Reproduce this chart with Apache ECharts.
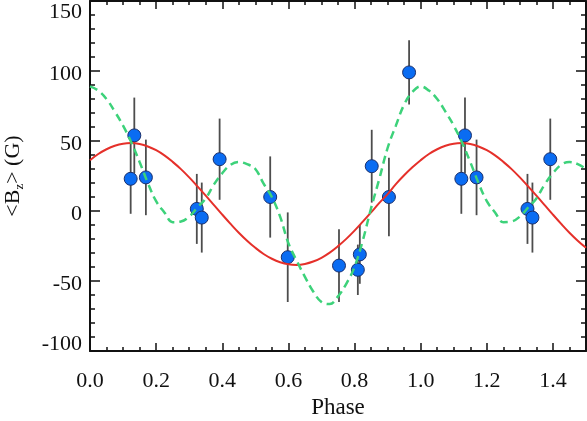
<!DOCTYPE html>
<html>
<head>
<meta charset="utf-8">
<script src="https://cdn.jsdelivr.net/npm/echarts@6/dist/echarts.min.js"></script>
<style>
html, body { margin: 0; padding: 0; background: #fff; }
#main { width: 587px; height: 421px; }
</style>
</head>
<body>
<div id="main"></div>
<script>
// observed points (phase, <Bz>, error)
var phase = [0.123, 0.134, 0.169, 0.323, 0.338, 0.392, 0.545, 0.598, 0.753, 0.810, 0.816, 0.852, 0.904, 0.965];
var bz    = [23, 54, 24, 1.5, -4.7, 37, 10, -33, -39, -42, -31, 32, 10, 99];
var err   = [25, 27, 27, 25, 25, 29, 29, 32, 26, 18, 21, 26, 28, 23];

// model curves, every 0.025 in phase
var curvePhase = [0, 0.025, 0.05, 0.075, 0.1, 0.125, 0.15, 0.175, 0.2, 0.225,
                  0.25, 0.275, 0.3, 0.325, 0.35, 0.375, 0.4, 0.425, 0.45, 0.475,
                  0.5, 0.525, 0.55, 0.575, 0.6, 0.625, 0.65, 0.675, 0.7, 0.725,
                  0.75, 0.775, 0.8, 0.825, 0.85, 0.875, 0.9, 0.925, 0.95, 0.975,
                  1.0, 1.025, 1.05, 1.075, 1.1, 1.125, 1.15, 1.175, 1.2, 1.225,
                  1.25, 1.275, 1.3, 1.325, 1.35, 1.375, 1.4, 1.425, 1.45, 1.475, 1.5];
var redCurve = [36.3, 40.7, 44.1, 46.6, 48.1, 48.5, 47.8, 46.1, 43.4, 39.7,
                35.1, 29.9, 24.0, 17.6, 11.0, 4.2, -2.6, -9.2, -15.5, -21.2,
                -26.3, -30.7, -34.1, -36.6, -38.1, -38.5, -37.8, -36.1, -33.4, -29.7,
                -25.1, -19.9, -14.0, -7.6, -1.0, 5.8, 12.0, 19.2, 25.5, 31.2,
                36.3, 40.7, 44.1, 46.6, 48.1, 48.5, 47.8, 46.1, 43.4, 39.7,
                35.1, 29.9, 24.0, 17.6, 11.0, 4.2, -2.6, -9.2, -15.5, -21.2, -26.3];
var greenCurve = [89, 86, 80, 71, 61, 49, 35, 20, 7, -1,
                  -8, -7.5, -4, 2.5, 9, 19, 27, 33, 35, 33.5,
                  30, 19.5, 10, -4, -23, -35.5, -47, -57.5, -65, -66.5,
                  -61, -52, -40, -21, 2, 23, 45, 61, 76, 85,
                  89, 86, 80, 71, 61, 49, 35, 20, 7, -1,
                  -8, -7.5, -4, 2.5, 9, 19, 27, 33, 35, 33.5, 30];

var xTicks = [0, 0.2, 0.4, 0.6, 0.8, 1.0, 1.2, 1.4];
var yTicks = [-100, -50, 0, 50, 100, 150];

// points with phase < 0.5 are repeated one cycle later
var pts = [];
for (var i = 0; i < phase.length; i++) {
    pts.push([phase[i], bz[i], err[i]]);
}
for (var i = 0; i < phase.length; i++) {
    if (phase[i] < 0.5) pts.push([phase[i] + 1, bz[i], err[i]]);
}

var myChart = echarts.init(document.getElementById('main'));
var font = 'Liberation Serif';
var black = '#111';

function xAx(pos, step, len, showLine, showLabel) {
    return {
        type: 'value', position: pos, min: 0, max: 1.5, interval: step,
        axisLine: { show: showLine, onZero: false, lineStyle: { color: black, width: 2 } },
        axisTick: { show: true, inside: true, length: len, lineStyle: { color: black, width: 1.5 } },
        axisLabel: {
            show: showLabel, margin: 19, fontFamily: font, fontSize: 22, color: black,
            showMaxLabel: false,
            formatter: function (v) { return xTicks.indexOf(+v.toFixed(2)) >= 0 ? v.toFixed(1) : ''; }
        },
        splitLine: { show: false }
    };
}

var xAxes = [
    xAx('bottom', 0.2, 8, true, true),
    xAx('bottom', 0.05, 4, false, false),
    xAx('top', 0.2, 8, true, false),
    xAx('top', 0.05, 4, false, false)
];
xAxes[0].name = 'Phase';
xAxes[0].nameLocation = 'middle';
xAxes[0].nameGap = 42;
xAxes[0].nameTextStyle = { fontFamily: font, fontSize: 23, color: black };

function yAx(pos, showLabel) {
    return {
        type: 'value', position: pos, min: -100, max: 150, interval: 50,
        axisLine: { show: true, onZero: false, lineStyle: { color: black, width: 2 } },
        axisTick: { show: true, inside: true, length: 10, lineStyle: { color: black, width: 1.5 } },
        minorTick: { show: true, splitNumber: 5, length: 5, lineStyle: { color: black, width: 1.5 } },
        axisLabel: {
            show: showLabel, margin: 8, fontFamily: font, fontSize: 22, color: black,
            verticalAlign: 'top', verticalAlignMinLabel: 'bottom', verticalAlignMaxLabel: 'top',
            formatter: function (v) {
                if (v === yTicks[yTicks.length - 1]) return '{t|' + v + '}';
                if (v === yTicks[0]) return '{b|' + v + '}';
                return '{m|' + v + '}';
            },
            rich: {
                t: { fontFamily: font, fontSize: 22, color: black, lineHeight: 22 },
                m: { fontFamily: font, fontSize: 22, color: black, lineHeight: 6 },
                b: { fontFamily: font, fontSize: 22, color: black, lineHeight: 14 }
            }
        },
        splitLine: { show: false }
    };
}
var yAxes = [yAx('left', true), yAx('right', false)];
yAxes[0].name = '<B{sub|z}> (G)';
yAxes[0].nameLocation = 'middle';
yAxes[0].nameGap = 64;
yAxes[0].nameTextStyle = {
    fontFamily: font, fontSize: 22, color: black,
    rich: { sub: { fontFamily: font, fontSize: 13, color: black, padding: [12, 0, 0, 0] } }
};

function curve(d) {
    var out = [];
    for (var i = 0; i < curvePhase.length; i++) out.push([curvePhase[i], d[i]]);
    return out;
}

var option = {
    animation: false,
    grid: { left: 90, right: 1, top: 1, bottom: 70, outerBoundsMode: 'none', containLabel: false },
    xAxis: xAxes,
    yAxis: yAxes,
    series: [
        {
            type: 'custom', xAxisIndex: 0, yAxisIndex: 0, z: 2,
            data: pts,
            renderItem: function (params, api) {
                var x = api.value(0), y = api.value(1), e = api.value(2);
                var p1 = api.coord([x, y - e]);
                var p2 = api.coord([x, y + e]);
                return {
                    type: 'line',
                    shape: { x1: p1[0], y1: p1[1], x2: p2[0], y2: p2[1] },
                    style: { stroke: '#4d4d4d', lineWidth: 1.8 }
                };
            }
        },
        {
            type: 'scatter', xAxisIndex: 0, yAxisIndex: 0, z: 3,
            data: pts.map(function (p) { return [p[0], p[1]]; }),
            symbolSize: 13,
            itemStyle: { color: '#0a6cf2', borderColor: '#1b2f6b', borderWidth: 1, opacity: 1 }
        },
        {
            type: 'line', xAxisIndex: 0, yAxisIndex: 0, z: 4,
            data: curve(redCurve), smooth: 0.4, showSymbol: false,
            lineStyle: { color: '#e5302a', width: 2 }
        },
        {
            type: 'line', xAxisIndex: 0, yAxisIndex: 0, z: 5,
            data: curve(greenCurve), smooth: 0.4, showSymbol: false,
            lineStyle: { color: '#3dd27a', width: 2.5, type: [8, 5] }
        }
    ]
};
myChart.setOption(option);
</script>
</body>
</html>
